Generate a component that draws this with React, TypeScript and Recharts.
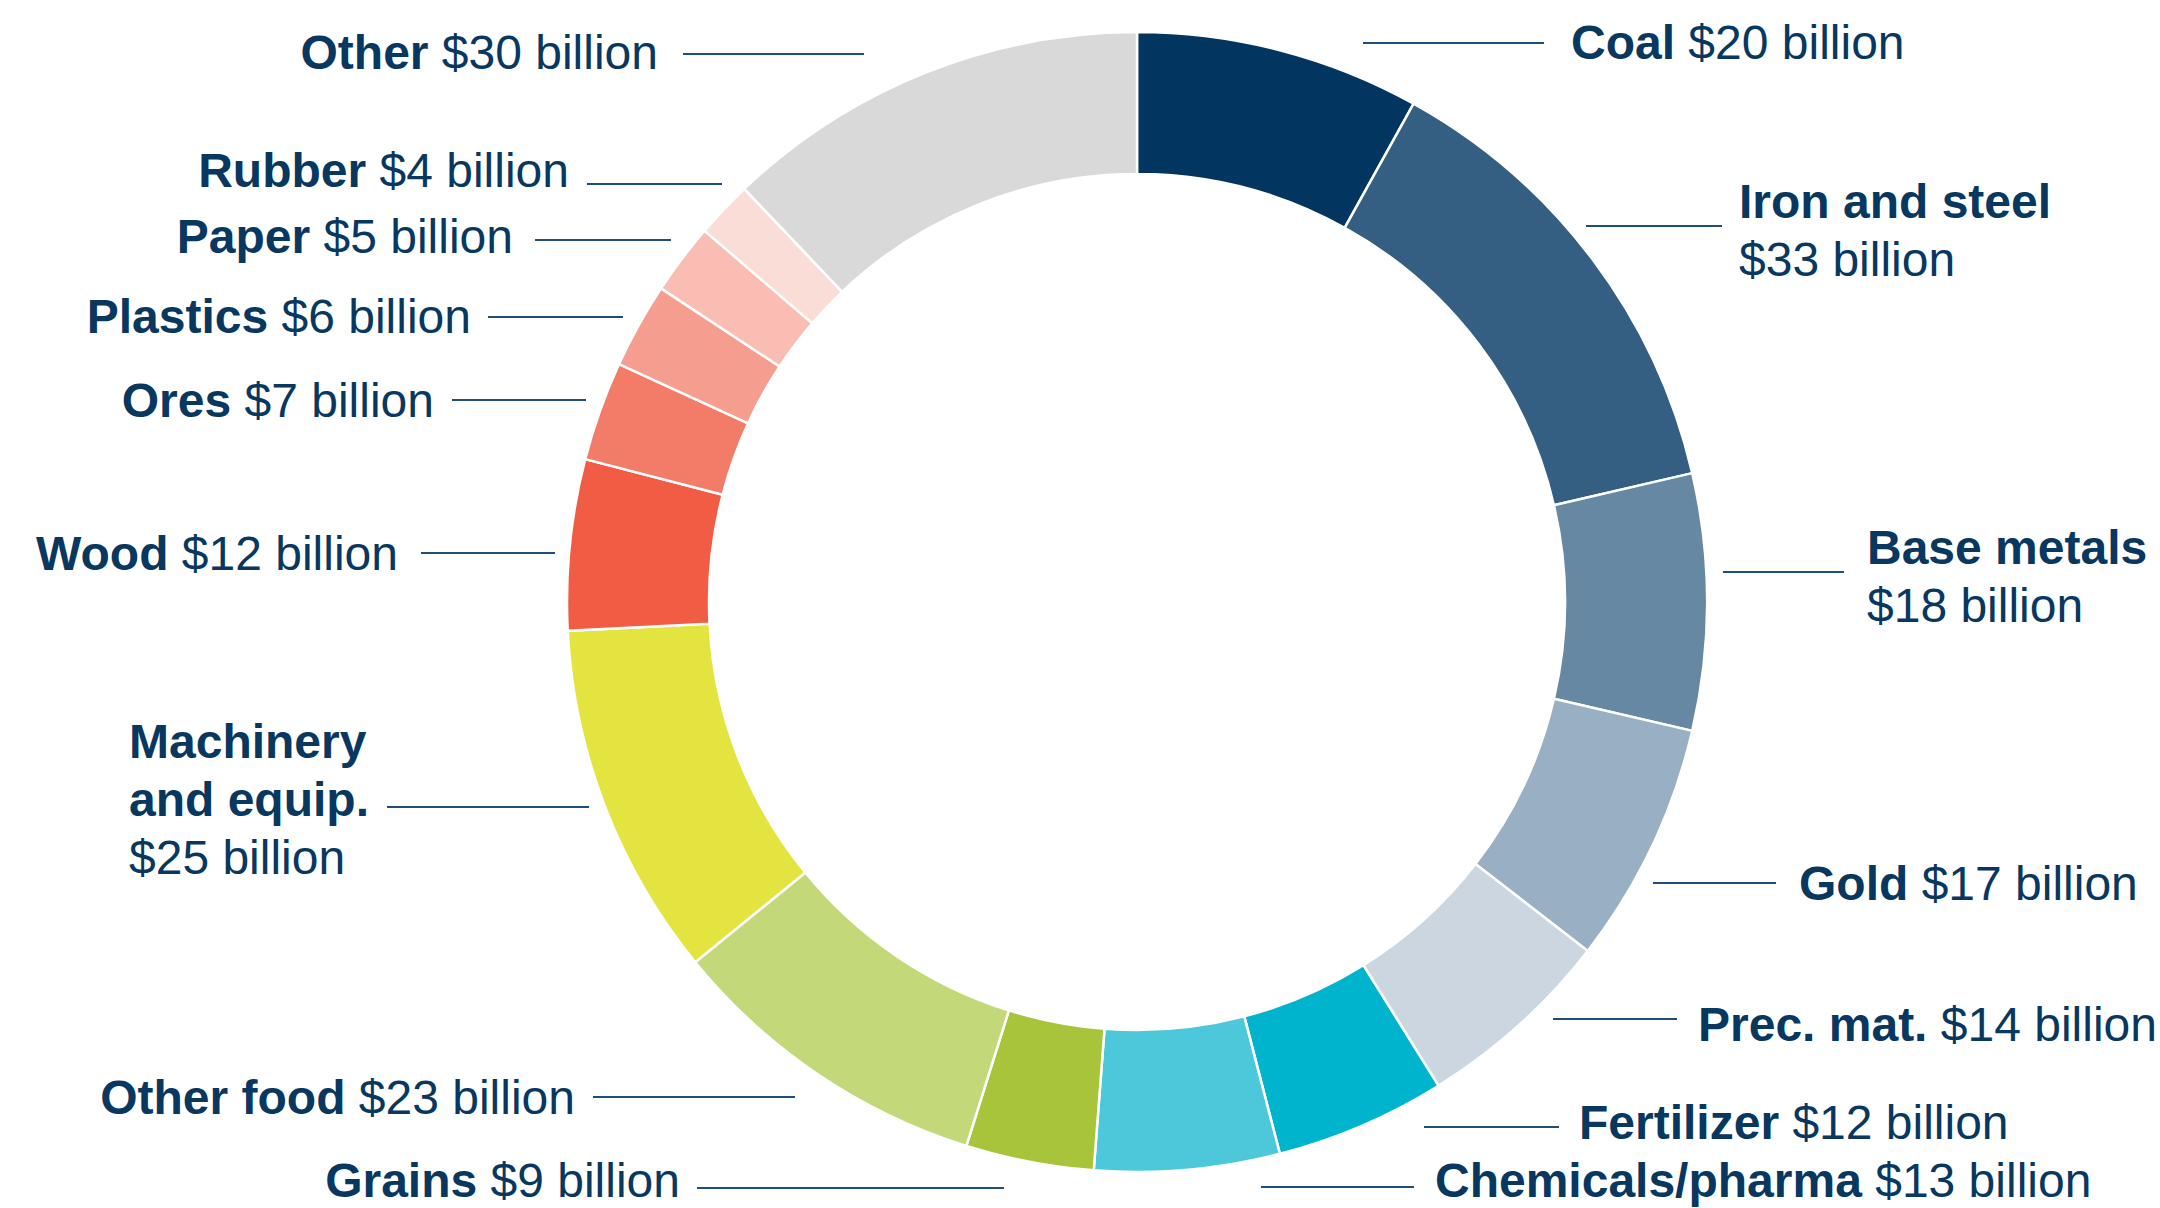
import { PieChart, Pie, Cell } from 'recharts'

// export values by product group, $ billion (clockwise from 12 o'clock)
const categories = [
  'Coal',
  'Iron and steel',
  'Base metals',
  'Gold',
  'Prec. mat.',
  'Fertilizer',
  'Chemicals/pharma',
  'Grains',
  'Other food',
  'Machinery\nand equip.',
  'Wood',
  'Ores',
  'Plastics',
  'Paper',
  'Rubber',
  'Other'
]
const values = [20, 33, 18, 17, 14, 12, 13, 9, 23, 25, 12, 7, 6, 5, 4, 30]

const colors = [
  '#023661', '#345f82', '#6688a2', '#99afc4', '#cbd6e0',
  '#00b4ce', '#4dc8da', '#a8c43a', '#c3d879', '#e3e43f',
  '#f05c44', '#f37c68', '#f59d8e', '#f9bdb3', '#fbddd8', '#d9d9d9'
]

const data = categories.map((name, i) => ({ name, value: values[i] }))

const WIDTH = 2160
const HEIGHT = 1208
const CX = 1137
const CY = 602
const TEXT = '#08375f'
const LEADER = '#1f4e78'
const FONT = 48
const LINE_H = 58

// label placement relative to pie centre: leader line (y, x1..x2), text x, first baseline
type Layout = { ly: number; x1: number; x2: number; tx: number; ty: number; anchor: 'start' | 'end'; stacked?: boolean }
const labelLayout: Layout[] = [
  { ly: -559, x1: 226, x2: 407, tx: 434, ty: -543, anchor: 'start' },
  { ly: -376, x1: 449, x2: 585, tx: 602, ty: -384, anchor: 'start', stacked: true },
  { ly: -30, x1: 586, x2: 707, tx: 730, ty: -38, anchor: 'start', stacked: true },
  { ly: 281, x1: 516, x2: 639, tx: 662, ty: 298, anchor: 'start' },
  { ly: 417, x1: 416, x2: 540, tx: 561, ty: 439, anchor: 'start' },
  { ly: 525, x1: 287, x2: 422, tx: 442, ty: 537, anchor: 'start' },
  { ly: 585, x1: 124, x2: 277, tx: 298, ty: 595, anchor: 'start' },
  { ly: 586, x1: -440, x2: -133, tx: -457, ty: 595, anchor: 'end' },
  { ly: 495, x1: -544, x2: -342, tx: -562, ty: 512, anchor: 'end' },
  { ly: 205, x1: -750, x2: -548, tx: -1008, ty: 156, anchor: 'start', stacked: true },
  { ly: -49, x1: -716, x2: -582, tx: -739, ty: -32, anchor: 'end' },
  { ly: -202, x1: -685, x2: -551, tx: -703, ty: -185, anchor: 'end' },
  { ly: -285, x1: -649, x2: -514, tx: -666, ty: -269, anchor: 'end' },
  { ly: -362, x1: -602, x2: -466, tx: -624, ty: -349, anchor: 'end' },
  { ly: -418, x1: -550, x2: -415, tx: -568, ty: -415, anchor: 'end' },
  { ly: -548, x1: -454, x2: -273, tx: -479, ty: -533, anchor: 'end' }
]

const renderLabel = (props: any) => {
  const i = props.index as number
  const l = labelLayout[i]
  if (!l) return null
  const nameLines = categories[i].split('\n')
  const valueText = `$${values[i]} billion`
  const x = CX + l.tx
  const y = CY + l.ty

  return (
    <g key={`lbl-${i}`}>
      <line
        x1={CX + l.x1}
        x2={CX + l.x2}
        y1={CY + l.ly}
        y2={CY + l.ly}
        stroke={LEADER}
        strokeWidth={2}
      />
      {l.stacked ? (
        <text x={x} y={y} textAnchor={l.anchor} fill={TEXT} fontSize={FONT} fontFamily="'Liberation Sans', Arial, sans-serif">
          {nameLines.map((t, k) => (
            <tspan key={k} x={x} dy={k === 0 ? 0 : LINE_H} fontWeight="bold">{t}</tspan>
          ))}
          <tspan x={x} dy={LINE_H}>{valueText}</tspan>
        </text>
      ) : (
        <text x={x} y={y} textAnchor={l.anchor} fill={TEXT} fontSize={FONT} fontFamily="'Liberation Sans', Arial, sans-serif" style={{ whiteSpace: 'pre' }}>
          <tspan fontWeight="bold">{nameLines.join(' ')}</tspan>
          <tspan>{' ' + valueText}</tspan>
        </text>
      )}
    </g>
  )
}

export default function App() {
  return (
    <div style={{ position: 'absolute', left: 0, top: 0, width: WIDTH, height: HEIGHT, background: '#fff' }}>
      <PieChart width={WIDTH} height={HEIGHT} margin={{ top: 0, right: 0, bottom: 0, left: 0 }}>
        <Pie
          data={data}
          dataKey="value"
          nameKey="name"
          cx={CX}
          cy={CY}
          innerRadius={428}
          outerRadius={570}
          startAngle={90}
          endAngle={-270}
          stroke="#ffffff"
          strokeWidth={2.5}
          label={renderLabel}
          labelLine={false}
          isAnimationActive={false}
        >
          {data.map((d, i) => (
            <Cell key={d.name} fill={colors[i]} />
          ))}
        </Pie>
      </PieChart>
    </div>
  )
}
